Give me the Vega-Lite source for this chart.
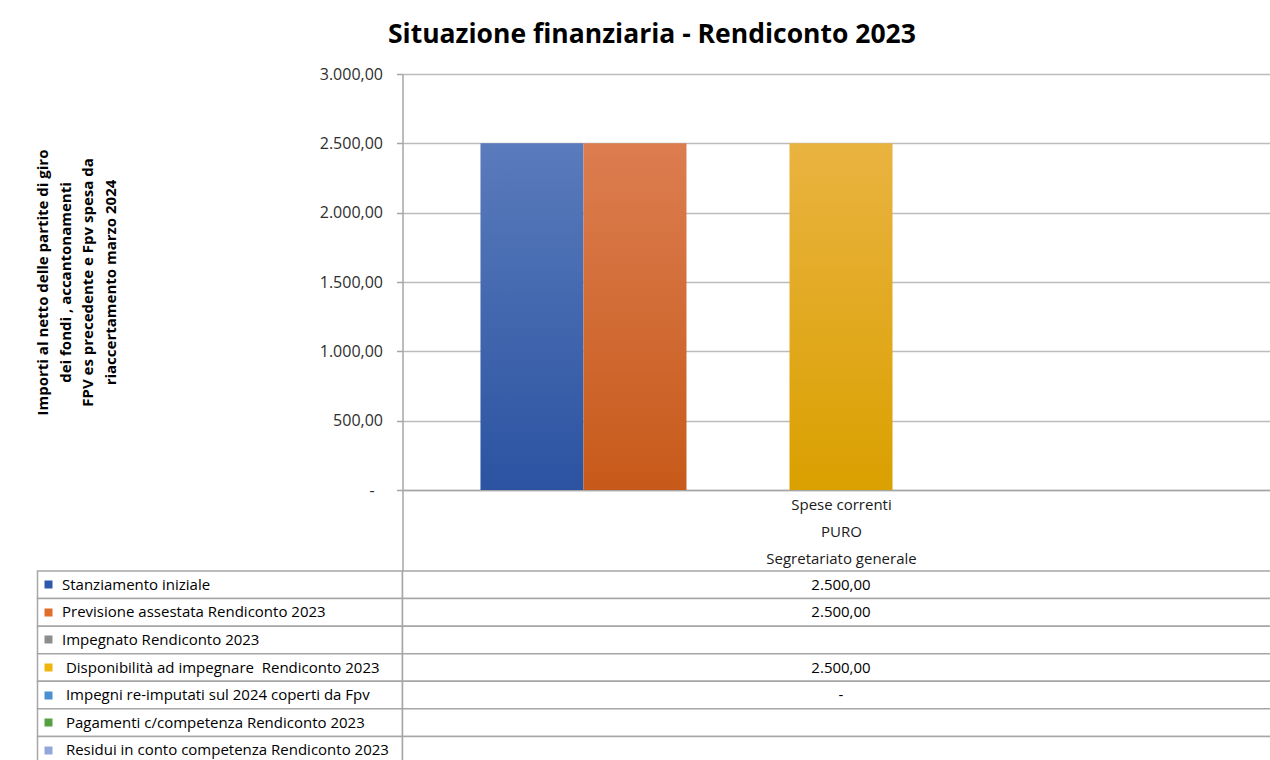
{
  "$schema": "https://vega.github.io/schema/vega-lite/v6.json",
  "background": "white",
  "autosize": {"type": "pad"},
  "padding": {"left": 35.5, "top": 21, "right": 0, "bottom": 0},
  "config": {
    "font": "Open Sans",
    "locale": {"number": {"decimal": ",", "thousands": ".", "grouping": [3], "currency": ["€", ""]}},
    "view": {"stroke": null}
  },
  "title": {
    "text": "Situazione finanziaria - Rendiconto 2023",
    "fontSize": 26.5, "fontWeight": "bold", "color": "#000000",
    "anchor": "start", "frame": "group", "baseline": "alphabetic", "offset": -3, "dx": 350.5
  },
  "datasets": {
    "righe": [
      {"serie": "Stanziamento iniziale", "categoria": "Spese correnti|PURO|Segretariato generale", "valore": 2500},
      {"serie": "Previsione assestata Rendiconto 2023", "categoria": "Spese correnti|PURO|Segretariato generale", "valore": 2500},
      {"serie": "Impegnato Rendiconto 2023", "categoria": "Spese correnti|PURO|Segretariato generale", "valore": null},
      {"serie": "\u200b\u00a0Disponibilità ad impegnare\u00a0 Rendiconto 2023", "categoria": "Spese correnti|PURO|Segretariato generale", "valore": 2500},
      {"serie": "\u200b\u00a0Impegni re-imputati sul 2024 coperti da Fpv", "categoria": "Spese correnti|PURO|Segretariato generale", "valore": 0},
      {"serie": "\u200b\u00a0Pagamenti c/competenza Rendiconto 2023", "categoria": "Spese correnti|PURO|Segretariato generale", "valore": null},
      {"serie": "\u200b\u00a0Residui in conto competenza Rendiconto 2023", "categoria": "Spese correnti|PURO|Segretariato generale", "valore": null}
    ]
  },
  "columns": 2,
  "bounds": "flush",
  "align": "each",
  "spacing": {"row": 81, "column": 0},
  "concat": [
    {
      "width": 365, "height": 416,
      "data": {"values": []},
      "mark": "point"
    },
    {
      "width": 877, "height": 416,
      "data": {"name": "righe"},
      "mark": {"type": "bar", "strokeWidth": 0},
      "encoding": {
        "x": {
          "field": "categoria", "type": "nominal", "title": null,
          "scale": {"paddingInner": 0, "paddingOuter": 0},
          "axis": {
            "labelExpr": "split(datum.label, '|')", "labelAngle": 0, "labelFontSize": 15, "labelColor": "#1a1a1a",
            "labelLineHeight": 27, "labelBaseline": "top", "labelPadding": -73.5,
            "tickSize": 81, "tickBand": "extent", "tickColor": "#a6a6a6", "tickWidth": 1.5,
            "domainColor": "#a6a6a6", "domainWidth": 1.5, "grid": false
          }
        },
        "xOffset": {
          "field": "serie", "type": "nominal", "sort": null,
          "scale": {
            "domain": ["Stanziamento iniziale", "Previsione assestata Rendiconto 2023", "Impegnato Rendiconto 2023", "\u200b\u00a0Disponibilità ad impegnare\u00a0 Rendiconto 2023", "\u200b\u00a0Impegni re-imputati sul 2024 coperti da Fpv", "\u200b\u00a0Pagamenti c/competenza Rendiconto 2023", "\u200b\u00a0Residui in conto competenza Rendiconto 2023"],
            "paddingInner": 0, "paddingOuter": 0.757
          }
        },
        "y": {
          "field": "valore", "type": "quantitative",
          "scale": {"domain": [0, 3000], "nice": false},
          "axis": {
            "values": [0, 500, 1000, 1500, 2000, 2500, 3000],
            "labelExpr": "datum.value == 0 ? '-\u00a0\u00a0\u200b' : format(datum.value, ',.2f')",
            "labelFontSize": 16, "labelColor": "#2e2e2e", "labelPadding": 14,
            "tickSize": 6, "tickColor": "#a6a6a6", "tickWidth": 1.5,
            "domainColor": "#a6a6a6", "domainWidth": 1.5,
            "gridColor": "#bcbcbc", "gridWidth": 1.3,
            "title": ["Importi al netto delle partite di giro", "dei fondi , accantonamenti", "FPV es precedente e Fpv spesa da", "riaccertamento marzo 2024"],
            "titleFontSize": 15, "titleFontWeight": "bold", "titleColor": "#000000",
            "titleLineHeight": 22.5, "titleBaseline": "alphabetic", "titleAngle": -90, "titleX": -355
          }
        },
        "fill": {
          "condition": [
            {"test": "datum.serie === 'Stanziamento iniziale'", "value": {"gradient": "linear", "x1": 0, "y1": 0, "x2": 0, "y2": 1, "stops": [{"offset": 0, "color": "#5a7bbc"}, {"offset": 1, "color": "#2b53a1"}]}},
            {"test": "datum.serie === 'Previsione assestata Rendiconto 2023'", "value": {"gradient": "linear", "x1": 0, "y1": 0, "x2": 0, "y2": 1, "stops": [{"offset": 0, "color": "#dc7d50"}, {"offset": 1, "color": "#c75a1a"}]}},
            {"test": "datum.serie === 'Impegnato Rendiconto 2023'", "value": {"gradient": "linear", "x1": 0, "y1": 0, "x2": 0, "y2": 1, "stops": [{"offset": 0, "color": "#a8a8a8"}, {"offset": 1, "color": "#7e7e7e"}]}},
            {"test": "datum.serie === '\u200b\u00a0Disponibilità ad impegnare\u00a0 Rendiconto 2023'", "value": {"gradient": "linear", "x1": 0, "y1": 0, "x2": 0, "y2": 1, "stops": [{"offset": 0, "color": "#e9b340"}, {"offset": 1, "color": "#daa000"}]}},
            {"test": "datum.serie === '\u200b\u00a0Impegni re-imputati sul 2024 coperti da Fpv'", "value": {"gradient": "linear", "x1": 0, "y1": 0, "x2": 0, "y2": 1, "stops": [{"offset": 0, "color": "#70a4da"}, {"offset": 1, "color": "#3b7fc4"}]}},
            {"test": "datum.serie === '\u200b\u00a0Pagamenti c/competenza Rendiconto 2023'", "value": {"gradient": "linear", "x1": 0, "y1": 0, "x2": 0, "y2": 1, "stops": [{"offset": 0, "color": "#74b45a"}, {"offset": 1, "color": "#4a9432"}]}}
          ],
          "value": {"gradient": "linear", "x1": 0, "y1": 0, "x2": 0, "y2": 1, "stops": [{"offset": 0, "color": "#aabae2"}, {"offset": 1, "color": "#8298d0"}]}
        }
      }
    },
    {
      "width": 365, "height": 193,
      "data": {"name": "righe"},
      "mark": {"type": "rect", "fill": "white", "stroke": "#a6a6a6", "strokeWidth": 1.5},
      "encoding": {
        "y": {
          "field": "serie", "type": "nominal", "sort": null, "title": null,
          "scale": {"paddingInner": 0, "paddingOuter": 0},
          "axis": {
            "orient": "left", "offset": -14.5, "domain": false, "grid": false,
            "tickSize": 8, "tickWidth": 8, "tickCap": "butt",
            "tickColor": {
              "condition": [
                {"test": "datum.value === 'Stanziamento iniziale'", "value": "#2d58ad"},
                {"test": "datum.value === 'Previsione assestata Rendiconto 2023'", "value": "#e06d29"},
                {"test": "datum.value === 'Impegnato Rendiconto 2023'", "value": "#8d8d8d"},
                {"test": "datum.value === '\u200b\u00a0Disponibilità ad impegnare\u00a0 Rendiconto 2023'", "value": "#f1b40c"},
                {"test": "datum.value === '\u200b\u00a0Impegni re-imputati sul 2024 coperti da Fpv'", "value": "#4b8fd2"},
                {"test": "datum.value === '\u200b\u00a0Pagamenti c/competenza Rendiconto 2023'", "value": "#53a141"}
              ],
              "value": "#94a7db"
            },
            "labelAlign": "left", "labelBaseline": "middle", "labelPadding": -17.5,
            "labelFontSize": 15, "labelColor": "#000000", "labelLimit": 360
          }
        }
      }
    },
    {
      "width": 877, "height": 193,
      "data": {"name": "righe"},
      "encoding": {
        "y": {
          "field": "serie", "type": "nominal", "sort": null,
          "scale": {"paddingInner": 0, "paddingOuter": 0},
          "axis": null
        }
      },
      "layer": [
        {"mark": {"type": "rect", "fill": "white", "stroke": "#a6a6a6", "strokeWidth": 1.5}},
        {
          "transform": [{"filter": "datum.valore != null"}],
          "mark": {"type": "text", "fontSize": 15, "color": "#000000"},
          "encoding": {
            "text": {"condition": {"test": "datum.valore === 0", "value": "-"}, "field": "valore", "type": "quantitative", "format": ",.2f"}
          }
        }
      ]
    }
  ]
}
